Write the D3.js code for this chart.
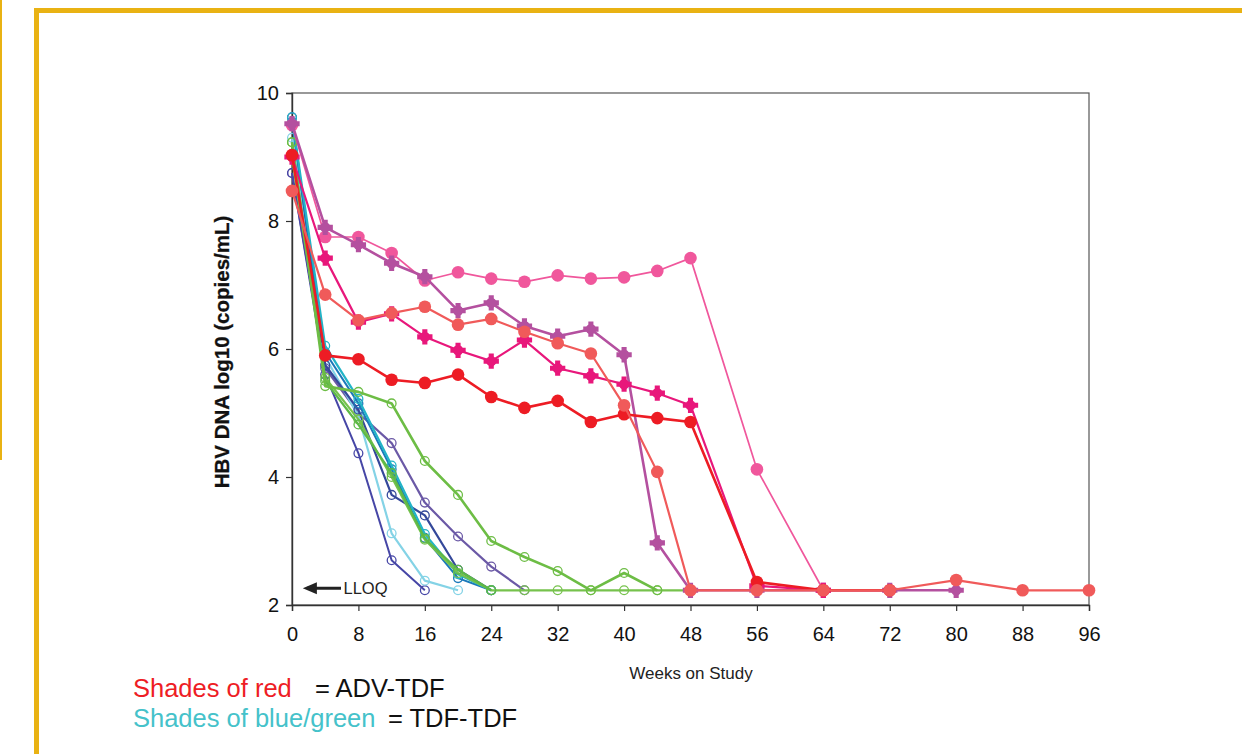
<!DOCTYPE html>
<html>
<head>
<meta charset="utf-8">
<script src="https://cdn.jsdelivr.net/npm/d3@7"></script>
<style>
  html, body { margin: 0; padding: 0; background: #fff; }
  svg { display: block; font-family: "Liberation Sans", Arial, sans-serif; }
</style>
</head>
<body>
<script>
// weeks on study (every 4 weeks to 48, then every 8)
const weeks = [0, 4, 8, 12, 16, 20, 24, 28, 32, 36, 40, 44, 48, 56, 64, 72, 80, 88, 96];
const xTicks = [0, 8, 16, 24, 32, 40, 48, 56, 64, 72, 80, 88, 96];
const yTicks = [2, 4, 6, 8, 10];
const lloq = 2.23;

// ADV-TDF patients (shades of red)
const pinkValues = [9.5, 7.75, 7.75, 7.5, 7.07, 7.2, 7.1, 7.05, 7.15, 7.1, 7.12, 7.22, 7.42, 4.12, 2.23];
const purpleValues = [9.52, 7.9, 7.63, 7.34, 7.13, 6.6, 6.72, 6.36, 6.2, 6.31, 5.91, 2.97, 2.23, 2.23, 2.23, 2.23, 2.23];
const magentaValues = [9.0, 7.42, 6.42, 6.55, 6.19, 5.98, 5.81, 6.14, 5.7, 5.58, 5.45, 5.31, 5.12, 2.3, 2.23];
const redValues = [9.03, 5.9, 5.84, 5.52, 5.47, 5.6, 5.25, 5.08, 5.19, 4.86, 4.98, 4.92, 4.86, 2.36, 2.23, 2.23];
const coralValues = [8.47, 6.85, 6.45, 6.56, 6.66, 6.38, 6.47, 6.27, 6.09, 5.93, 5.12, 4.08, 2.23, 2.23, 2.23, 2.23, 2.39, 2.23, 2.23];

// TDF-TDF patients (shades of blue/green)
const tealValues = [9.62, 6.05, 5.22, 4.18, 3.11, 2.48, 2.23];
const blueValues = [9.55, 5.95, 5.15, 4.12, 3.05, 2.42, 2.23];
const navyValues = [9.62, 5.75, 5.05, 3.72, 3.4, 2.55, 2.23];
const lightCyanValues = [9.3, 5.88, 4.95, 3.12, 2.38, 2.23];
const indigoValues = [8.75, 5.6, 4.37, 2.7, 2.23];
const violetValues = [8.75, 5.7, 5.0, 4.53, 3.6, 3.07, 2.6, 2.23];
const greenAValues = [9.23, 5.42, 5.33, 5.15, 4.25, 3.72, 3.0, 2.75, 2.53, 2.23, 2.5, 2.23];
const greenBValues = [9.0, 5.55, 4.9, 4.0, 3.02, 2.5, 2.23, 2.23, 2.23, 2.23, 2.23, 2.23, 2.23];
const greenCValues = [9.23, 5.5, 4.82, 4.06, 3.04, 2.55, 2.23];

const blueGroup = [
  { values: violetValues, color: "#6b59a6", width: 2.2 },
  { values: indigoValues, color: "#4646a6", width: 2 },
  { values: lightCyanValues, color: "#84d3e6", width: 2.2 },
  { values: navyValues, color: "#34489a", width: 2.2 },
  { values: blueValues, color: "#1b79ba", width: 2 },
  { values: tealValues, color: "#22b4c7", width: 2.2 },
  { values: greenBValues, color: "#76c24c", width: 2.2 },
  { values: greenCValues, color: "#5eb947", width: 2.2 },
  { values: greenAValues, color: "#6dbd45", width: 2.6 }
];

const redGroup = [
  { values: pinkValues, color: "#f0579c", width: 1.7, shape: "hex" },
  { values: purpleValues, color: "#b4509f", width: 2.6, shape: "star" },
  { values: magentaValues, color: "#e8177b", width: 2.2, shape: "star" },
  { values: redValues, color: "#ed1c24", width: 2.6, shape: "hex" },
  { values: coralValues, color: "#f05a5a", width: 2.2, shape: "hex" }
];

const width = 1242;
const height = 754;
const plot = { left: 292, right: 1089, top: 93, bottom: 605 };

const svg = d3
  .select("body")
  .append("svg")
  .attr("width", width)
  .attr("height", height);

// yellow slide frame
const gold = "#e9b213";
svg.append("rect").attr("x", 0).attr("y", 0).attr("width", 2).attr("height", 460).attr("fill", gold);
svg.append("rect").attr("x", 34).attr("y", 8).attr("width", width - 34).attr("height", 5).attr("fill", gold);
svg.append("rect").attr("x", 34).attr("y", 8).attr("width", 5).attr("height", height - 8).attr("fill", gold);

const xScale = d3.scaleLinear().domain([0, 96]).range([plot.left, plot.right]);
const yScale = d3.scaleLinear().domain([2, 10]).range([plot.bottom, plot.top]);

// plot box
svg
  .append("rect")
  .attr("x", plot.left)
  .attr("y", plot.top)
  .attr("width", plot.right - plot.left)
  .attr("height", plot.bottom - plot.top)
  .attr("fill", "none")
  .attr("stroke", "#555")
  .attr("stroke-width", 1.2);

const xAxis = svg
  .append("g")
  .attr("transform", `translate(0, ${plot.bottom})`)
  .call(d3.axisBottom(xScale).tickValues(xTicks).tickSize(6).tickPadding(16));
xAxis.select(".domain").attr("stroke", "#333").attr("stroke-width", 1.4);
xAxis.selectAll(".tick line").attr("stroke", "#333").attr("stroke-width", 1.2);
xAxis
  .selectAll(".tick text")
  .style("font-size", "20px")
  .style("font-family", "Liberation Sans, Arial, sans-serif")
  .attr("fill", "#111");

const yAxis = svg
  .append("g")
  .attr("transform", `translate(${plot.left}, 0)`)
  .call(d3.axisLeft(yScale).tickValues(yTicks).tickSize(6).tickPadding(7));
yAxis.select(".domain").attr("stroke", "#333").attr("stroke-width", 1.4);
yAxis.selectAll(".tick line").attr("stroke", "#333").attr("stroke-width", 1.2);
yAxis
  .selectAll(".tick text")
  .style("font-size", "20px")
  .style("font-family", "Liberation Sans, Arial, sans-serif")
  .attr("fill", "#111");

// axis titles
svg
  .append("text")
  .attr("transform", `translate(229, 352) rotate(-90)`)
  .attr("text-anchor", "middle")
  .style("font-size", "20.5px")
  .style("font-weight", "600")
  .attr("fill", "#111")
  .attr("stroke", "#111")
  .attr("stroke-width", 0.3)
  .text("HBV DNA log10 (copies/mL)");

svg
  .append("text")
  .attr("x", 691)
  .attr("y", 679)
  .attr("text-anchor", "middle")
  .style("font-size", "17px")
  .attr("fill", "#222")
  .text("Weeks on Study");

// LLOQ marker
svg
  .append("line")
  .attr("x1", xScale(5.9))
  .attr("x2", xScale(1.8))
  .attr("y1", yScale(lloq) - 2)
  .attr("y2", yScale(lloq) - 2)
  .attr("stroke", "#222")
  .attr("stroke-width", 3);
svg
  .append("path")
  .attr("d", d3.line()([
    [xScale(1.3), yScale(lloq) - 2],
    [xScale(3.0), yScale(lloq) - 8],
    [xScale(3.0), yScale(lloq) + 4]
  ]) + "Z")
  .attr("fill", "#222");
svg
  .append("text")
  .attr("x", xScale(6.2))
  .attr("y", yScale(lloq) + 4)
  .style("font-size", "16.5px")
  .attr("fill", "#222")
  .text("LLOQ");

const line = d3
  .line()
  .defined((d) => d.v != null)
  .x((d) => xScale(d.w))
  .y((d) => yScale(d.v));

function toPoints(values) {
  return values.map((v, i) => ({ w: weeks[i], v: v })).filter((d) => d.v != null);
}

// TDF-TDF series: open circles
blueGroup.forEach((s) => {
  const pts = toPoints(s.values);
  const g = svg.append("g");
  g.append("path")
    .attr("d", line(pts))
    .attr("fill", "none")
    .attr("stroke", s.color)
    .attr("stroke-width", s.width)
    .attr("stroke-linejoin", "round");
  g.selectAll("circle")
    .data(pts)
    .enter()
    .append("circle")
    .attr("cx", (d) => xScale(d.w))
    .attr("cy", (d) => yScale(d.v))
    .attr("r", 4.4)
    .attr("fill", "none")
    .attr("stroke", s.color)
    .attr("stroke-width", 1.3);
});

// ADV-TDF series: filled markers
const hexPath = d3.symbol().type(d3.symbolCircle).size(125)();
const starPath = d3.symbol().type(d3.symbolCross).size(130)();
const dotPath = d3.symbol().type(d3.symbolCircle).size(85)();

redGroup.forEach((s) => {
  const pts = toPoints(s.values);
  const g = svg.append("g");
  g.append("path")
    .attr("d", line(pts))
    .attr("fill", "none")
    .attr("stroke", s.color)
    .attr("stroke-width", s.width)
    .attr("stroke-linejoin", "round");
  const marks = g
    .selectAll("g.mark")
    .data(pts)
    .enter()
    .append("g")
    .attr("class", "mark")
    .attr("transform", (d) => `translate(${xScale(d.w)}, ${yScale(d.v)})`);
  if (s.shape === "star") {
    marks.append("path").attr("d", starPath).attr("fill", s.color);
    marks.append("path").attr("d", dotPath).attr("fill", s.color);
  } else {
    marks.append("path").attr("d", hexPath).attr("fill", s.color);
  }
});

// group legend
const legend = svg.append("g").style("font-size", "25.5px");
legend.append("text").attr("x", 133).attr("y", 697).attr("fill", "#ee1d25").text("Shades of red");
legend.append("text").attr("x", 315).attr("y", 697).attr("fill", "#111").text("= ADV-TDF");
legend.append("text").attr("x", 133).attr("y", 727).attr("fill", "#45c2ca").text("Shades of blue/green");
legend.append("text").attr("x", 388).attr("y", 727).attr("fill", "#111").text("= TDF-TDF");
</script>
</body>
</html>
